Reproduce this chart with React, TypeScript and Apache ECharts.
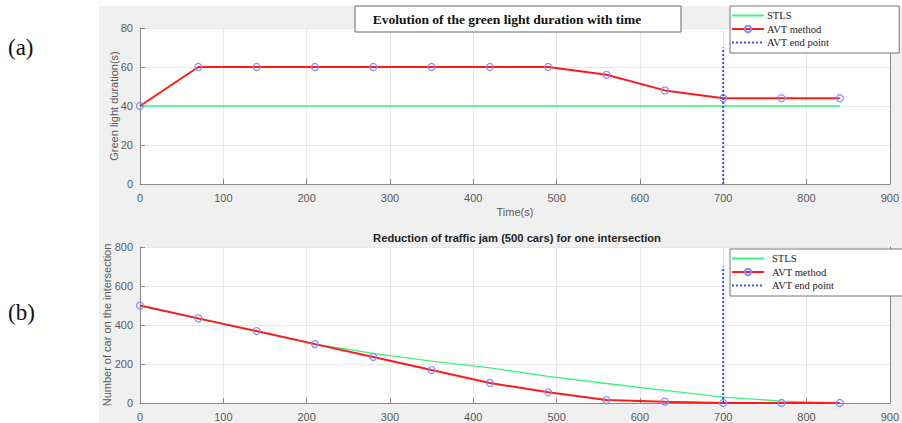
import React, { useEffect, useRef } from "react";
import * as echarts from "echarts";

const timeS = [0, 70, 140, 210, 280, 350, 420, 490, 560, 630, 700, 770, 840];
const greenSTLS = [40, 40, 40, 40, 40, 40, 40, 40, 40, 40, 40, 40, 40];
const greenAVT = [40, 60, 60, 60, 60, 60, 60, 60, 56, 48, 44, 44, 44];
const carsSTLS = [500, 433, 367, 302, 255, 215, 180, 137, 100, 65, 30, 10, 0];
const carsAVT = [500, 434, 369, 302, 236, 169, 103, 55, 15, 7, 0, 0, 0];
const endPointX = 700;
const endPointTopA = 70;
const endPointTopB = 700;
const legendNames = ["STLS", "AVT method", "AVT end point"];

const pair = (xs: number[], ys: number[]) => xs.map((x, i) => [x, ys[i]]);

const GREEN = "#40f07c";
const RED = "#ff1a1a";
const BLUE = "#3b4dff";
const MARK = "#7f8cff";
const CLEAR = "rgba(0,0,0,0)";

export default function App() {
  const ref = useRef<HTMLDivElement>(null);
  useEffect(() => {
    if (!ref.current) return;
    const chart = echarts.init(ref.current, undefined, { renderer: "svg" });
    const sans = "Liberation Sans, Arial, sans-serif";
    const axisLabel = { color: "#5a5a5a", fontSize: 11, fontFamily: sans };
    const axisLine = { show: true, lineStyle: { color: "#888", width: 1 } };
    const axisTick = { show: true, inside: true, length: 5, lineStyle: { color: "#888" } };
    const splitLine = { show: true, lineStyle: { color: "#e8e8e8", width: 1 } };
    const nameTextStyle = { color: "#5a5a5a", fontSize: 11, fontFamily: sans };
    const xAx = (gi: number) => ({
      type: "value",
      gridIndex: gi,
      min: 0,
      max: 900,
      interval: 100,
      axisLine,
      axisTick,
      splitLine,
      axisLabel: { ...axisLabel, margin: 8 },
      name: gi === 0 ? "Time(s)" : "",
      nameLocation: "middle",
      nameGap: 22,
      nameTextStyle,
    });
    const yAx = (gi: number, max: number, interval: number, name: string, gap: number) => ({
      type: "value",
      gridIndex: gi,
      min: 0,
      max,
      interval,
      axisLine,
      axisTick,
      splitLine,
      axisLabel: { ...axisLabel, margin: 7 },
      name,
      nameLocation: "middle",
      nameGap: gap,
      nameMoveOverlap: false,
      nameTextStyle,
    });
    const yRight = (gi: number, max: number, interval: number) => ({
      type: "value",
      gridIndex: gi,
      position: "right",
      min: 0,
      max,
      interval,
      axisLine,
      axisTick: { show: false },
      splitLine: { show: false },
      axisLabel: { show: false },
    });
    const stls = (xi: number, yi: number, data: number[][]) => ({
      name: "STLS",
      type: "line",
      xAxisIndex: xi,
      yAxisIndex: yi,
      data,
      symbol: "none",
      lineStyle: { color: GREEN, width: 1.3 },
      itemStyle: { color: CLEAR, borderColor: CLEAR },
      z: 2,
    });
    const avt = (xi: number, yi: number, data: number[][]) => ({
      name: "AVT method",
      type: "line",
      xAxisIndex: xi,
      yAxisIndex: yi,
      data,
      symbol: "circle",
      symbolSize: 7,
      showSymbol: true,
      lineStyle: { color: RED, width: 2 },
      itemStyle: { color: CLEAR, borderColor: MARK, borderWidth: 1.2 },
      z: 3,
    });
    const endp = (xi: number, yi: number, top: number) => ({
      name: "AVT end point",
      type: "line",
      xAxisIndex: xi,
      yAxisIndex: yi,
      data: [
        [endPointX, 0],
        [endPointX, top],
      ],
      symbol: "none",
      lineStyle: { color: BLUE, width: 2, type: "dotted" },
      itemStyle: { color: CLEAR, borderColor: CLEAR },
      z: 4,
    });
    const legend = (top: number, textPad: number) => ({
      data: legendNames,
      orient: "vertical",
      left: 730,
      top,
      itemWidth: 32,
      itemHeight: 8,
      itemGap: 2.5,
      padding: [4, 70, 5, 1],
      backgroundColor: "#fff",
      borderColor: "#777",
      borderWidth: 1,
      selectedMode: false,
      textStyle: {
        fontFamily: "Liberation Serif, Times New Roman, serif",
        fontSize: 10.5,
        color: "#222",
        padding: [0, 0, 0, textPad],
      },
    });
    chart.setOption({
      animation: false,
      backgroundColor: "#fff",
      graphic: [
        { type: "rect", shape: { x: 99, y: 6, width: 803, height: 417 }, style: { fill: "#f0f0f0" }, z: -10, silent: true },
        { type: "text", x: 8, y: 47, style: { text: "(a)", font: "23px 'Liberation Serif', serif", fill: "#111", verticalAlign: "middle" } },
        { type: "text", x: 8, y: 312, style: { text: "(b)", font: "23px 'Liberation Serif', serif", fill: "#111", verticalAlign: "middle" } },
        { type: "rect", shape: { x: 355, y: 6, width: 326, height: 26 }, style: { fill: "#fff", stroke: "#666", lineWidth: 1 }, z: 10 },
        {
          type: "text",
          x: 507,
          y: 19,
          z: 11,
          style: {
            text: "Evolution of the green light duration with time",
            font: "bold 13.5px 'Liberation Serif', serif",
            fill: "#111",
            align: "center",
            verticalAlign: "middle",
          },
        },
      ],
      title: {
        text: "Reduction of traffic jam (500 cars) for one intersection",
        left: 517,
        top: 232,
        textAlign: "center",
        textStyle: { fontFamily: sans, fontWeight: "bold", fontSize: 11.2, color: "#222" },
        padding: 0,
      },
      legend: [legend(6, -2), legend(249, 3)],
      grid: [
        { left: 140, top: 28, width: 754, height: 156, show: true, backgroundColor: "#fff", borderWidth: 0 },
        { left: 140, top: 247, width: 754, height: 156, show: true, backgroundColor: "#fff", borderWidth: 0 },
      ],
      xAxis: [xAx(0), xAx(1)],
      yAxis: [
        yAx(0, 80, 20, "Green light duration(s)", 21),
        yAx(1, 800, 200, "Number of car on the intersection", 28),
        yRight(0, 80, 20),
        yRight(1, 800, 200),
      ],
      series: [
        stls(0, 0, pair(timeS, greenSTLS)),
        avt(0, 0, pair(timeS, greenAVT)),
        endp(0, 0, endPointTopA),
        stls(1, 1, pair(timeS, carsSTLS)),
        avt(1, 1, pair(timeS, carsAVT)),
        endp(1, 1, endPointTopB),
      ],
    });
    return () => chart.dispose();
  }, []);
  return <div ref={ref} style={{ position: "fixed", left: 0, top: 0, width: 902, height: 423 }} />;
}
